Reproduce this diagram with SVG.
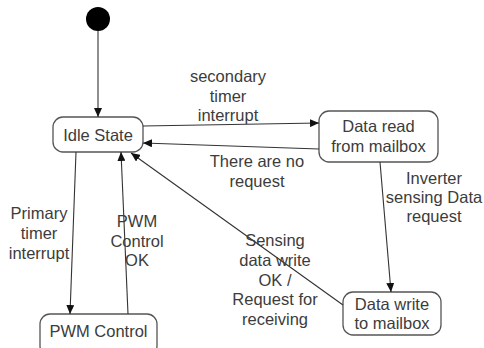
<svg xmlns="http://www.w3.org/2000/svg" width="484" height="348" viewBox="0 0 484 348">
  <style>
    .state rect { fill: #ffffff; stroke: #555555; stroke-width: 1.3; }
    .label { font-family: "Liberation Sans", Arial, sans-serif; font-size: 16.5px; fill: #3c3c3c; text-anchor: middle; }
    .edge { fill: none; stroke: #333333; stroke-width: 1.1; }
  </style>
  <defs>
    <marker id="arrow" markerUnits="userSpaceOnUse" markerWidth="10" markerHeight="8" refX="9" refY="4" orient="auto">
      <path d="M0,0 L9,4 L0,8 z" fill="#111111"/>
    </marker>
  </defs>

  <!-- initial pseudo-state -->
  <g id="start">
    <circle cx="98" cy="19" r="12" fill="#000000"/>
  </g>

  <!-- states -->
  <g id="idle" class="state">
    <rect x="53" y="117" width="90" height="35" rx="10"/>
    <text class="label" x="98" y="141">Idle State</text>
  </g>
  <g id="read" class="state">
    <rect x="319" y="111" width="119" height="51" rx="10"/>
    <text class="label" x="378.5" y="132">Data read</text>
    <text class="label" x="378.5" y="152">from mailbox</text>
  </g>
  <g id="pwm" class="state">
    <rect x="40" y="314" width="117" height="42" rx="10"/>
    <text class="label" x="98.5" y="337">PWM Control</text>
  </g>
  <g id="write" class="state">
    <rect x="343" y="292" width="98" height="43" rx="10"/>
    <text class="label" x="392" y="310">Data write</text>
    <text class="label" x="392" y="329">to mailbox</text>
  </g>

  <!-- transitions -->
  <g id="connectors">
    <line class="edge" x1="98" y1="31" x2="98" y2="117" marker-end="url(#arrow)"/>
    <line class="edge" x1="143" y1="126" x2="319" y2="123" marker-end="url(#arrow)"/>
    <line class="edge" x1="319" y1="149" x2="143" y2="143" marker-end="url(#arrow)"/>
    <line class="edge" x1="76" y1="152" x2="70" y2="314" marker-end="url(#arrow)"/>
    <line class="edge" x1="128" y1="314" x2="121" y2="152" marker-end="url(#arrow)"/>
    <line class="edge" x1="380" y1="162" x2="391" y2="292" marker-end="url(#arrow)"/>
    <line class="edge" x1="343" y1="305" x2="131" y2="153" marker-end="url(#arrow)"/>
  </g>

  <!-- transition labels -->
  <g id="labels">
    <text class="label" x="228" y="82">secondary</text>
    <text class="label" x="228" y="102">timer</text>
    <text class="label" x="228" y="121">interrupt</text>

    <text class="label" x="257" y="167">There are no</text>
    <text class="label" x="257" y="187">request</text>

    <text class="label" x="434" y="184">Inverter</text>
    <text class="label" x="434" y="203">sensing Data</text>
    <text class="label" x="434" y="222">request</text>

    <text class="label" x="39" y="219">Primary</text>
    <text class="label" x="39" y="239">timer</text>
    <text class="label" x="39" y="259">interrupt</text>

    <text class="label" x="137" y="227">PWM</text>
    <text class="label" x="137" y="247">Control</text>
    <text class="label" x="137" y="266">OK</text>

    <text class="label" x="275" y="246">Sensing</text>
    <text class="label" x="275" y="266">data write</text>
    <text class="label" x="275" y="286">OK /</text>
    <text class="label" x="275" y="305">Request for</text>
    <text class="label" x="275" y="325">receiving</text>
  </g>
</svg>
